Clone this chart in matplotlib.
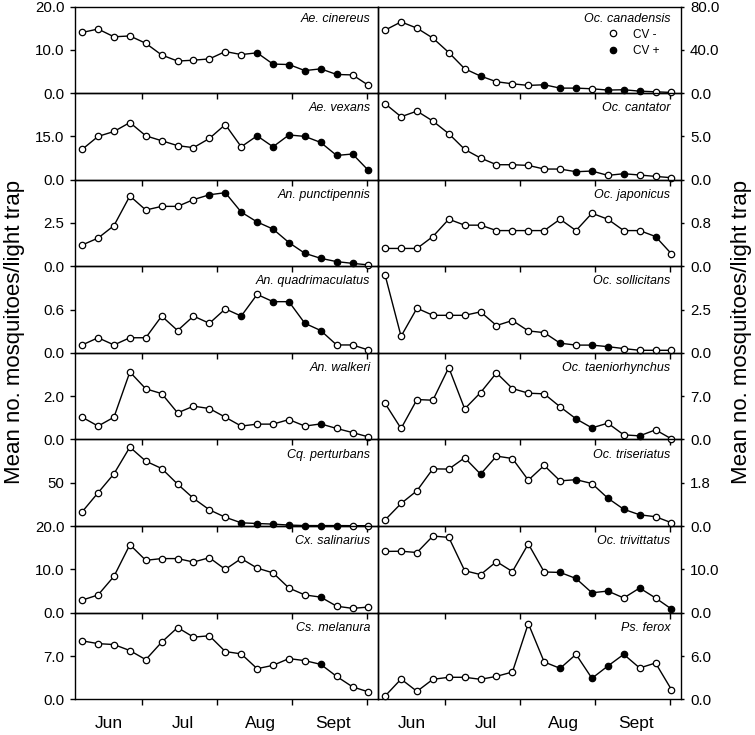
import numpy as np
import matplotlib
matplotlib.use("Agg")
import matplotlib.pyplot as plt
from matplotlib.lines import Line2D

plt.rcParams['font.family'] = ['Liberation Sans', 'DejaVu Sans']

weeks = list(range(19))
month_names = ["Jun", "Jul", "Aug", "Sept"]
month_bounds = [3.77, 8.5, 13.2, 17.9]
month_centers = [1.68, 6.36, 11.2, 15.8]

# ---- left column ----
ae_cinereus = [14.0, 14.8, 13.0, 13.2, 11.5, 8.8, 7.4, 7.6, 7.9, 9.6, 8.9, 9.3, 6.7, 6.6, 5.2, 5.6, 4.3, 4.2, 1.8]
ae_cinereus_cv = [12, 13, 14, 15, 16, 17]
ae_vexans = [10.5, 15.0, 16.7, 19.8, 15.2, 13.5, 11.8, 11.1, 14.3, 19.1, 11.4, 15.2, 11.4, 15.5, 15.0, 12.9, 8.4, 8.9, 3.2]
ae_vexans_cv = [12, 13, 14, 15, 16, 17, 18, 19]
an_punct = [1.23, 1.63, 2.35, 4.06, 3.25, 3.46, 3.46, 3.85, 4.13, 4.25, 3.13, 2.56, 2.15, 1.37, 0.75, 0.46, 0.27, 0.17, 0.08]
an_punct_cv = [9, 10, 11, 12, 13, 14, 15, 16, 17, 18]
an_quad = [0.11, 0.21, 0.11, 0.21, 0.21, 0.51, 0.31, 0.51, 0.41, 0.61, 0.51, 0.81, 0.71, 0.71, 0.41, 0.31, 0.11, 0.11, 0.04]
an_quad_cv = [11, 13, 14, 15, 16]
an_walkeri = [1.03, 0.62, 1.03, 3.12, 2.34, 2.12, 1.23, 1.54, 1.43, 1.03, 0.62, 0.71, 0.71, 0.92, 0.62, 0.72, 0.51, 0.32, 0.12]
an_walkeri_cv = [16]
cq_perturbans = [16.5, 38.5, 60.4, 91.2, 75.0, 66.5, 48.5, 32.0, 18.8, 10.2, 3.8, 3.0, 2.3, 1.2, 0.6, 0.6, 0.6, 0.5, 0.4]
cq_perturbans_cv = [11, 12, 13, 14, 15, 16, 17]
cx_salinarius = [2.9, 4.1, 8.4, 15.7, 12.1, 12.5, 12.5, 11.7, 12.7, 10.0, 12.5, 10.3, 9.2, 5.7, 4.1, 3.6, 1.5, 1.0, 1.3]
cx_salinarius_cv = [16]
cs_melanura = [9.45, 9.0, 8.85, 7.88, 6.41, 9.24, 11.6, 10.05, 10.27, 7.72, 7.34, 4.95, 5.49, 6.58, 6.25, 5.65, 3.70, 2.01, 1.2]
cs_melanura_cv = [16]

# ---- right column ----
oc_canadensis = [58.2, 65.8, 60.0, 50.8, 37.5, 22.5, 15.7, 10.5, 8.6, 7.1, 7.7, 4.6, 4.6, 4.0, 2.8, 3.1, 1.8, 1.2, 0.6]
oc_canadensis_cv = [7, 11, 12, 13, 15, 16, 17]
oc_cantator = [8.77, 7.27, 7.92, 6.77, 5.31, 3.5, 2.5, 1.73, 1.73, 1.65, 1.23, 1.23, 0.92, 1.0, 0.5, 0.69, 0.54, 0.38, 0.23]
oc_cantator_cv = [13, 14, 16]
oc_japonicus = [0.33, 0.33, 0.33, 0.55, 0.87, 0.76, 0.76, 0.66, 0.66, 0.66, 0.66, 0.87, 0.66, 0.98, 0.87, 0.66, 0.66, 0.55, 0.23]
oc_japonicus_cv = [18]
oc_sollicitans = [4.48, 0.96, 2.58, 2.17, 2.17, 2.17, 2.37, 1.58, 1.87, 1.27, 1.17, 0.56, 0.45, 0.45, 0.36, 0.25, 0.15, 0.15, 0.15]
oc_sollicitans_cv = [12, 14, 15]
oc_taenio = [5.82, 1.78, 6.46, 6.35, 11.63, 4.95, 7.59, 10.77, 8.24, 7.49, 7.38, 5.28, 3.34, 1.88, 2.64, 0.75, 0.59, 1.56, 0.1]
oc_taenio_cv = [13, 14, 17]
oc_triseriatus = [0.26, 0.94, 1.47, 2.38, 2.37, 2.84, 2.16, 2.91, 2.81, 1.91, 2.52, 1.88, 1.93, 1.77, 1.16, 0.70, 0.47, 0.39, 0.14]
oc_triseriatus_cv = [7, 13, 15, 16, 17]
oc_trivittatus = [14.15, 14.2, 13.9, 17.7, 17.4, 9.7, 8.8, 11.8, 9.5, 15.9, 9.4, 9.3, 7.9, 4.6, 5.0, 3.4, 5.7, 3.4, 0.85]
oc_trivittatus_cv = [12, 13, 14, 15, 17, 19]
ps_ferox = [0.46, 2.8, 1.1, 2.77, 3.05, 3.05, 2.77, 3.18, 3.78, 10.5, 5.17, 4.29, 6.23, 2.91, 4.61, 6.23, 4.34, 5.03, 1.34]
ps_ferox_cv = [12, 14, 15, 16]

left_names = ["Ae. cinereus", "Ae. vexans", "An. punctipennis", "An. quadrimaculatus",
              "An. walkeri", "Cq. perturbans", "Cx. salinarius", "Cs. melanura"]
left_series = [ae_cinereus, ae_vexans, an_punct, an_quad, an_walkeri, cq_perturbans, cx_salinarius, cs_melanura]
left_cv = [ae_cinereus_cv, ae_vexans_cv, an_punct_cv, an_quad_cv, an_walkeri_cv, cq_perturbans_cv, cx_salinarius_cv, cs_melanura_cv]
left_ymax = [20, 30, 5, 1.2, 4, 100, 20, 14]
left_ticks = [[0, 10, 20], [0, 15], [0, 2.5], [0, 0.6], [0, 2.0], [50], [0, 10, 20], [0, 7]]
left_labels = [["0.0", "10.0", "20.0"], ["0.0", "15.0"], ["0.0", "2.5"], ["0.0", "0.6"],
               ["0.0", "2.0"], ["50"], ["0.0", "10.0", "20.0"], ["0.0", "7.0"]]

right_names = ["Oc. canadensis", "Oc. cantator", "Oc. japonicus", "Oc. sollicitans",
               "Oc. taeniorhynchus", "Oc. triseriatus", "Oc. trivittatus", "Ps. ferox"]
right_series = [oc_canadensis, oc_cantator, oc_japonicus, oc_sollicitans, oc_taenio, oc_triseriatus, oc_trivittatus, ps_ferox]
right_cv = [oc_canadensis_cv, oc_cantator_cv, oc_japonicus_cv, oc_sollicitans_cv, oc_taenio_cv, oc_triseriatus_cv, oc_trivittatus_cv, ps_ferox_cv]
right_ymax = [80, 10, 1.6, 5, 14, 3.6, 20, 12]
right_ticks = [[0, 40, 80], [0, 5], [0, 0.8], [0, 2.5], [0, 7], [0, 1.8], [0, 10], [0, 6]]
right_labels = [["0.0", "40.0", "80.0"], ["0.0", "5.0"], ["0.0", "0.8"], ["0.0", "2.5"],
                ["0.0", "7.0"], ["0.0", "1.8"], ["0.0", "10.0"], ["0.0", "6.0"]]

W, H = 755, 735
fig = plt.figure(figsize=(W / 100, H / 100), dpi=100)

top_px = 6.5
row_h = 86.6
col_left = [75, 378]
col_w = 303

def draw(ax, vals, cv, name, ymax, ticks, labels, side, name_x, name_y):
    x = np.array(weeks)
    v = np.array(vals)
    filled = np.array([(i + 1) in cv for i in range(len(vals))])
    ax.plot(x, v, color='black', lw=1.0, zorder=2, clip_on=False)
    ax.plot(x[~filled], v[~filled], 'o', ms=4.6, mfc='white', mec='black', mew=0.9,
            ls='none', zorder=3, clip_on=False)
    ax.plot(x[filled], v[filled], 'o', ms=4.6, mfc='black', mec='black', mew=0.9,
            ls='none', zorder=3, clip_on=False)
    ax.set_xlim(-0.45, 18.6)
    ax.set_ylim(0, ymax)
    ax.set_facecolor('none')
    ax.set_xticks(month_bounds)
    ax.set_xticklabels([])
    ax.set_xticks(month_centers, minor=True)
    ax.tick_params(axis='x', which='major', direction='out', length=4, width=1.0, bottom=True, top=False)
    ax.tick_params(axis='x', which='minor', length=0, pad=12, labelsize=12.5)
    ax.set_yticks(ticks)
    ax.set_yticklabels(labels)
    if side == 'left':
        ax.tick_params(axis='y', direction='out', length=3.5, width=1.0, pad=4, labelsize=10.8,
                       left=True, right=False, labelleft=True, labelright=False)
    else:
        ax.tick_params(axis='y', direction='out', length=2.5, width=1.0, pad=4, labelsize=10.8,
                       left=False, right=True, labelleft=False, labelright=True)
    for sp in ax.spines.values():
        sp.set_linewidth(1.0)
    ax.text(name_x, name_y, name, transform=ax.transAxes, ha='right', va='center',
            fontsize=9, style='italic')

axes_right_top = None
for i in range(8):
    bottom = 1 - (top_px + (i + 1) * row_h) / H
    h = row_h / H
    ny = 0.85 if i == 0 else 0.825
    axl = fig.add_axes([col_left[0] / W, bottom, col_w / W, h])
    draw(axl, left_series[i], left_cv[i], left_names[i], left_ymax[i], left_ticks[i], left_labels[i], 'left', 0.975, ny)
    axr = fig.add_axes([col_left[1] / W, bottom, col_w / W, h])
    draw(axr, right_series[i], right_cv[i], right_names[i], right_ymax[i], right_ticks[i], right_labels[i], 'right', 0.965, ny)
    if i < 7:
        axl.set_xticklabels([], minor=True)
        axr.set_xticklabels([], minor=True)
    else:
        axl.set_xticklabels(month_names, minor=True)
        axr.set_xticklabels(month_names, minor=True)
    if i == 0:
        axes_right_top = axr

handles = [Line2D([], [], marker='o', ls='none', ms=4.6, mfc='white', mec='black', mew=0.9),
           Line2D([], [], marker='o', ls='none', ms=4.6, mfc='black', mec='black', mew=0.9)]
axes_right_top.legend(handles, ["CV -", "CV +"], loc='upper left', bbox_to_anchor=(0.756, 0.745),
                      frameon=False, fontsize=8.5, handlelength=1.0, handletextpad=1.2,
                      labelspacing=0.4, borderpad=0, borderaxespad=0)

ylabel = "Mean no. mosquitoes/light trap"
fig.text(15 / W, 1 - 332 / H, ylabel, rotation=90, ha='center', va='center', fontsize=16)
fig.text(742 / W, 1 - 332 / H, ylabel, rotation=90, ha='center', va='center', fontsize=16)

fig.savefig("out.png", dpi=100)
